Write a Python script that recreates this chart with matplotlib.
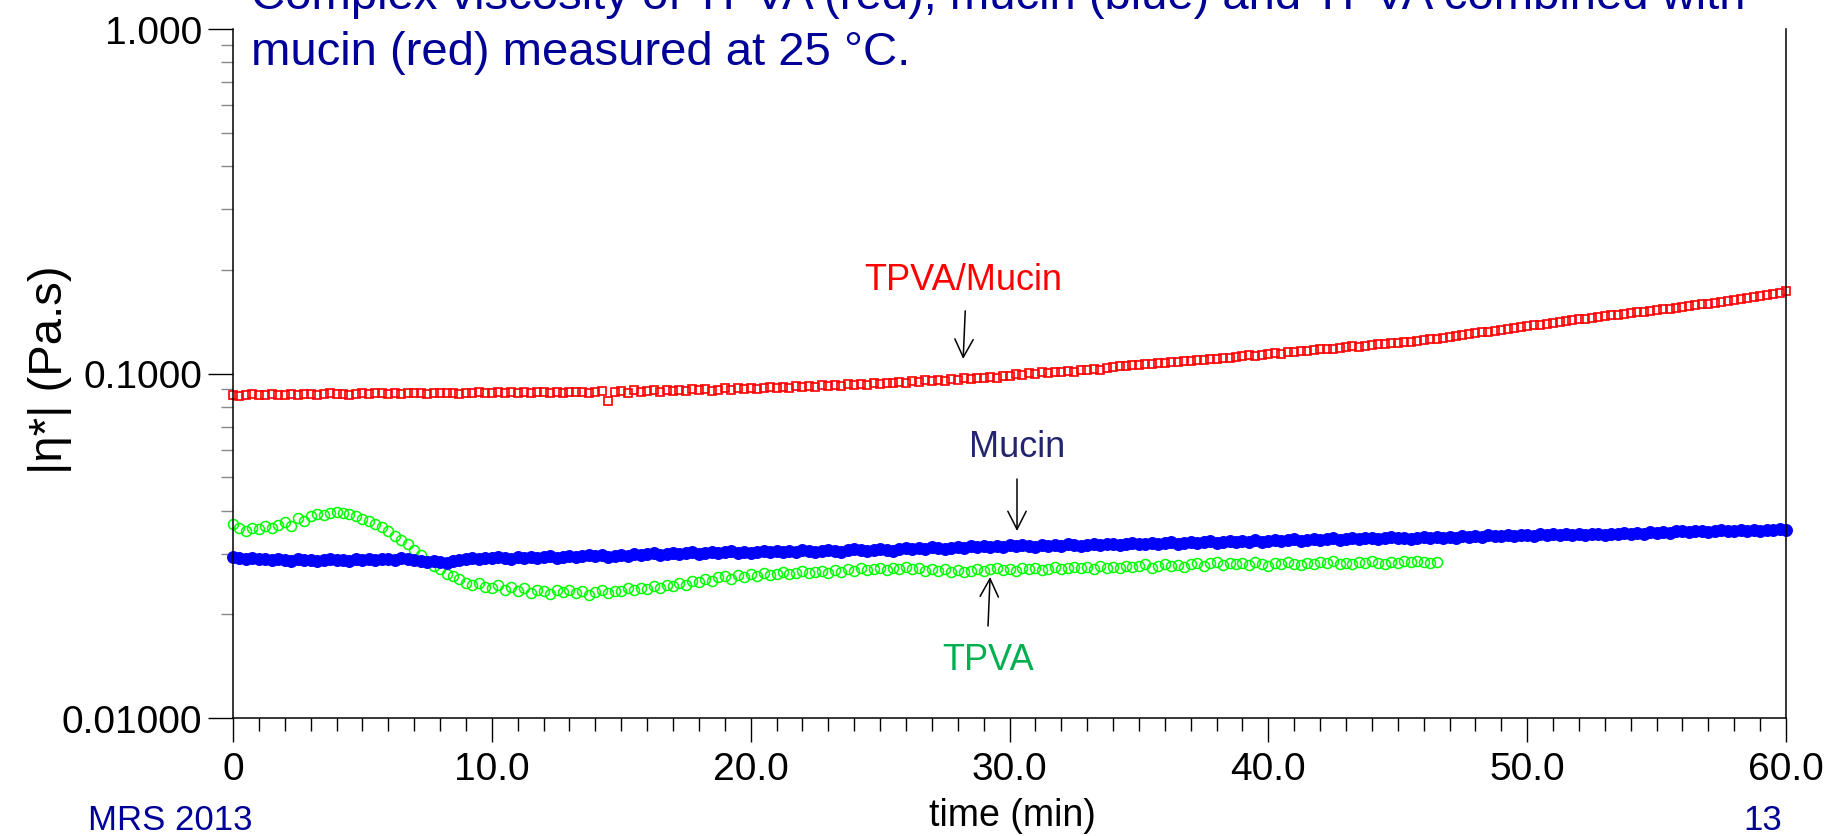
import numpy as np
import matplotlib
matplotlib.use("Agg")
import matplotlib.pyplot as plt
from matplotlib.ticker import FixedLocator, NullFormatter

plt.rcParams['font.family'] = ['Liberation Sans', 'DejaVu Sans']

# sampling interval of the rheometer (min)
time_step = 0.25

# |eta*| (Pa.s), TPVA combined with mucin, 0 .. 60 min
tpva_mucin = [
    0.0868, 0.0862, 0.0866, 0.0870, 0.0865, 0.0868, 0.0871, 0.0866,
    0.0869, 0.0873, 0.0867, 0.0870, 0.0874, 0.0868, 0.0871, 0.0876,
    0.0870, 0.0873, 0.0869, 0.0874, 0.0877, 0.0872, 0.0875, 0.0879,
    0.0873, 0.0876, 0.0871, 0.0878, 0.0875, 0.0879, 0.0874, 0.0877,
    0.0880, 0.0875, 0.0878, 0.0874, 0.0879, 0.0876, 0.0881, 0.0877,
    0.0880, 0.0884, 0.0878, 0.0882, 0.0879, 0.0883, 0.0877, 0.0881,
    0.0885, 0.0880, 0.0883, 0.0879, 0.0884, 0.0881, 0.0886, 0.0880,
    0.0883, 0.0887, 0.0830, 0.0885, 0.0890, 0.0878, 0.0893, 0.0884,
    0.0889, 0.0893, 0.0886, 0.0895, 0.0891, 0.0897, 0.0888, 0.0899,
    0.0894, 0.0901, 0.0892, 0.0898, 0.0905, 0.0897, 0.0908, 0.0901,
    0.0910, 0.0903, 0.0906, 0.0913, 0.0908, 0.0915, 0.0909, 0.0918,
    0.0913, 0.0920, 0.0916, 0.0924, 0.0919, 0.0928, 0.0922, 0.0931,
    0.0926, 0.0934, 0.0929, 0.0937, 0.0933, 0.0941, 0.0936, 0.0945,
    0.0940, 0.0949, 0.0944, 0.0955, 0.0950, 0.0958, 0.0953, 0.0963,
    0.0958, 0.0968, 0.0962, 0.0972, 0.0968, 0.0977, 0.0971, 0.0982,
    0.0985, 0.0995, 0.0989, 0.1002, 0.0998, 0.1008, 0.1003, 0.1012,
    0.1010, 0.1018, 0.1013, 0.1024, 0.1022, 0.1030, 0.1026, 0.1036,
    0.1046, 0.1052, 0.1049, 0.1057, 0.1060, 0.1066, 0.1063, 0.1071,
    0.1073, 0.1080, 0.1077, 0.1085, 0.1088, 0.1094, 0.1091, 0.1100,
    0.1105, 0.1111, 0.1108, 0.1117, 0.1122, 0.1128, 0.1125, 0.1134,
    0.1139, 0.1145, 0.1142, 0.1151, 0.1156, 0.1162, 0.1159, 0.1168,
    0.1175, 0.1181, 0.1178, 0.1187, 0.1193, 0.1199, 0.1196, 0.1205,
    0.1211, 0.1217, 0.1214, 0.1223, 0.1229, 0.1236, 0.1233, 0.1242,
    0.1250, 0.1258, 0.1262, 0.1271, 0.1279, 0.1287, 0.1292, 0.1301,
    0.1309, 0.1317, 0.1322, 0.1331, 0.1339, 0.1347, 0.1352, 0.1362,
    0.1370, 0.1379, 0.1384, 0.1394, 0.1402, 0.1411, 0.1416, 0.1426,
    0.1435, 0.1444, 0.1449, 0.1459, 0.1468, 0.1476, 0.1481, 0.1490,
    0.1498, 0.1507, 0.1512, 0.1521, 0.1530, 0.1539, 0.1544, 0.1553,
    0.1562, 0.1571, 0.1576, 0.1586, 0.1595, 0.1605, 0.1610, 0.1620,
    0.1635, 0.1647, 0.1654, 0.1666, 0.1678, 0.1691, 0.1699, 0.1712,
    0.1735,
]

# |eta*| (Pa.s), mucin alone, 0 .. 60 min
mucin = [
    0.0294, 0.0292, 0.0290, 0.0291, 0.0289, 0.0290, 0.0288, 0.0290,
    0.0288, 0.0286, 0.0289, 0.0287, 0.0288, 0.0286, 0.0287, 0.0289,
    0.0287, 0.0288, 0.0286, 0.0289, 0.0288, 0.0290, 0.0287, 0.0289,
    0.0290, 0.0288, 0.0291, 0.0289, 0.0287, 0.0285, 0.0284, 0.0286,
    0.0284, 0.0282, 0.0285, 0.0287, 0.0289, 0.0291, 0.0290, 0.0292,
    0.0291, 0.0293, 0.0292, 0.0290, 0.0293, 0.0291, 0.0294, 0.0292,
    0.0293, 0.0295, 0.0292, 0.0294, 0.0296, 0.0293, 0.0295, 0.0297,
    0.0295, 0.0297, 0.0294, 0.0296, 0.0298, 0.0296, 0.0299, 0.0297,
    0.0299, 0.0301, 0.0298, 0.0300, 0.0302, 0.0299, 0.0301, 0.0303,
    0.0300, 0.0302, 0.0304, 0.0301, 0.0303, 0.0305, 0.0302, 0.0304,
    0.0301, 0.0304, 0.0306, 0.0303, 0.0305, 0.0303, 0.0306, 0.0304,
    0.0307, 0.0305, 0.0303, 0.0306, 0.0308, 0.0306, 0.0304, 0.0307,
    0.0309, 0.0307, 0.0305, 0.0308, 0.0310, 0.0308, 0.0306, 0.0309,
    0.0311, 0.0309, 0.0312, 0.0310, 0.0313, 0.0311, 0.0309, 0.0312,
    0.0314, 0.0312, 0.0315, 0.0313, 0.0315, 0.0313, 0.0316, 0.0314,
    0.0317, 0.0315, 0.0318, 0.0316, 0.0314, 0.0317, 0.0315, 0.0318,
    0.0316, 0.0319, 0.0317, 0.0315, 0.0318, 0.0320, 0.0317, 0.0319,
    0.0321, 0.0318, 0.0320, 0.0322, 0.0319, 0.0321, 0.0323, 0.0320,
    0.0322, 0.0324, 0.0321, 0.0323, 0.0325, 0.0322, 0.0324, 0.0326,
    0.0323, 0.0325, 0.0327, 0.0324, 0.0326, 0.0324, 0.0328, 0.0325,
    0.0327, 0.0329, 0.0326, 0.0328, 0.0330, 0.0327, 0.0329, 0.0331,
    0.0328, 0.0330, 0.0332, 0.0329, 0.0331, 0.0333, 0.0330, 0.0332,
    0.0334, 0.0331, 0.0333, 0.0335, 0.0332, 0.0334, 0.0331, 0.0333,
    0.0335, 0.0333, 0.0336, 0.0334, 0.0336, 0.0334, 0.0337, 0.0335,
    0.0338, 0.0336, 0.0339, 0.0337, 0.0338, 0.0340, 0.0337, 0.0339,
    0.0340, 0.0338, 0.0341, 0.0339, 0.0341, 0.0339, 0.0342, 0.0340,
    0.0342, 0.0340, 0.0343, 0.0341, 0.0340, 0.0343, 0.0341, 0.0344,
    0.0342, 0.0345, 0.0343, 0.0346, 0.0344, 0.0347, 0.0345, 0.0348,
    0.0349, 0.0346, 0.0348, 0.0350, 0.0347, 0.0349, 0.0351, 0.0348,
    0.0350, 0.0352, 0.0349, 0.0351, 0.0350, 0.0352, 0.0351, 0.0353,
    0.0352,
]

# |eta*| (Pa.s), TPVA alone, 0 .. 46.5 min
tpva = [
    0.0366, 0.0355, 0.0350, 0.0357, 0.0353, 0.0360, 0.0356, 0.0364,
    0.0370, 0.0362, 0.0380, 0.0372, 0.0385, 0.0391, 0.0388, 0.0394,
    0.0395, 0.0393, 0.0390, 0.0386, 0.0379, 0.0372, 0.0366, 0.0358,
    0.0348, 0.0338, 0.0328, 0.0319, 0.0308, 0.0297, 0.0286, 0.0276,
    0.0270, 0.0262, 0.0258, 0.0254, 0.0247, 0.0243, 0.0247, 0.0240,
    0.0238, 0.0243, 0.0235, 0.0240, 0.0233, 0.0238, 0.0231, 0.0236,
    0.0234, 0.0229, 0.0236, 0.0232, 0.0235, 0.0230, 0.0233, 0.0228,
    0.0232, 0.0236, 0.0231, 0.0234, 0.0233, 0.0238, 0.0235, 0.0239,
    0.0237, 0.0241, 0.0239, 0.0244, 0.0242, 0.0247, 0.0244, 0.0250,
    0.0248, 0.0253, 0.0250, 0.0256, 0.0258, 0.0254, 0.0260, 0.0257,
    0.0261, 0.0258, 0.0263, 0.0260, 0.0262, 0.0266, 0.0261, 0.0264,
    0.0267, 0.0263, 0.0265, 0.0268, 0.0264, 0.0269, 0.0266, 0.0270,
    0.0268, 0.0272, 0.0269, 0.0271, 0.0273, 0.0269, 0.0272, 0.0270,
    0.0274, 0.0270, 0.0272, 0.0268, 0.0271, 0.0267, 0.0270, 0.0266,
    0.0269, 0.0265, 0.0268, 0.0271, 0.0267, 0.0270, 0.0273, 0.0269,
    0.0271, 0.0268, 0.0272, 0.0270, 0.0273, 0.0269, 0.0271, 0.0274,
    0.0270, 0.0273, 0.0275, 0.0272, 0.0274, 0.0271, 0.0276, 0.0273,
    0.0275, 0.0272, 0.0277, 0.0274, 0.0276, 0.0279, 0.0273, 0.0277,
    0.0280, 0.0276, 0.0278, 0.0275, 0.0279, 0.0282, 0.0277, 0.0281,
    0.0284, 0.0278, 0.0281, 0.0279, 0.0282, 0.0278, 0.0283, 0.0280,
    0.0277, 0.0281, 0.0279, 0.0283, 0.0280, 0.0278, 0.0282, 0.0279,
    0.0283, 0.0281, 0.0285, 0.0280, 0.0282, 0.0279, 0.0284, 0.0281,
    0.0285, 0.0282, 0.0280, 0.0284, 0.0281, 0.0285, 0.0283, 0.0286,
    0.0284, 0.0282, 0.0283,
]

x_ticks = [0, 10, 20, 30, 40, 50, 60]
x_tick_labels = ['0', '10.0', '20.0', '30.0', '40.0', '50.0', '60.0']
y_ticks = [0.01, 0.1, 1.0]
y_tick_labels = ['0.01000', '0.1000', '1.000']

t_mix = np.arange(len(tpva_mucin)) * time_step
t_muc = np.arange(len(mucin)) * time_step
t_tpva = np.arange(len(tpva)) * time_step

navy = '#000096'

fig = plt.figure(figsize=(18.45, 8.37), dpi=100)
ax = fig.add_axes([233 / 1845, 1 - 719 / 837, (1786 - 233) / 1845, (719 - 30) / 837])

ax.plot(t_mix, tpva_mucin, ls='none', marker='s', ms=6.2, mfc='none',
        mec='#ff0000', mew=1.2, clip_on=False)
ax.plot(t_tpva, tpva, ls='none', marker='o', ms=7.2, mfc='none',
        mec='#00ff00', mew=1.1, clip_on=False)
ax.plot(t_muc, mucin, ls='none', marker='o', ms=8.5, mfc='#0000ff',
        mec='#0000ff', mew=0.8, clip_on=False)

ax.set_yscale('log')
ax.set_xlim(0, 60)
ax.set_ylim(0.01, 1.0)

ax.set_xticks(x_ticks)
ax.set_xticklabels(x_tick_labels)
ax.xaxis.set_minor_locator(FixedLocator(np.arange(0, 61, 1)))
ax.set_yticks(y_ticks)
ax.set_yticklabels(y_tick_labels)
ax.yaxis.set_minor_formatter(NullFormatter())

ax.tick_params(axis='x', which='major', direction='out', length=17.5, width=1.0,
               labelsize=28, pad=6)
ax.tick_params(axis='x', which='minor', direction='out', length=9.5, width=1.0)
ax.tick_params(axis='y', which='major', direction='out', length=18, width=1.0,
               labelsize=28, pad=4)
ax.tick_params(axis='y', which='minor', direction='out', length=9, width=1.0,
               color='#888888')

ax.spines['top'].set_visible(False)
for s in ['left', 'bottom', 'right']:
    ax.spines[s].set_linewidth(1.1)

# curve labels with arrows
arrow = dict(arrowstyle='->,head_length=0.65,head_width=0.33', color='black',
             lw=1.1, mutation_scale=20, shrinkA=0, shrinkB=0)
ax.annotate('', xy=(28.21, 0.1102), xytext=(28.29, 0.152), arrowprops=arrow)
ax.text(28.2, 0.188, 'TPVA/Mucin', color='#ff0000', fontsize=26,
        ha='center', va='center')
ax.annotate('', xy=(30.29, 0.0349), xytext=(30.29, 0.0494), arrowprops=arrow)
ax.text(30.29, 0.0612, 'Mucin', color='#24246e', fontsize=26,
        ha='center', va='center')
ax.annotate('', xy=(29.25, 0.02566), xytext=(29.17, 0.0185), arrowprops=arrow)
ax.text(29.17, 0.01483, 'TPVA', color='#00b050', fontsize=26,
        ha='center', va='center')

# axis titles
fig.text(50 / 1845, 1 - 370 / 837, '|η*| (Pa.s)', rotation=90, fontsize=34,
         ha='center', va='center')
fig.text(1012 / 1845, 1 - 816 / 837, 'time (min)', fontsize=27,
         ha='center', va='center')

# slide text
fig.text(251 / 1845, 1 - 9 / 837,
         'Complex viscosity of TPVA (red), mucin (blue) and TPVA combined with',
         color=navy, fontsize=34, ha='left', va='baseline')
fig.text(251 / 1845, 1 - 65 / 837, 'mucin (red) measured at 25 °C.',
         color=navy, fontsize=34, ha='left', va='baseline')
fig.text(88 / 1845, 1 - 830 / 837, 'MRS 2013', color=navy, fontsize=25,
         ha='left', va='baseline')
fig.text(1743 / 1845, 1 - 830 / 837, '13', color=navy, fontsize=25,
         ha='left', va='baseline')

fig.savefig('out.png', dpi=100)
